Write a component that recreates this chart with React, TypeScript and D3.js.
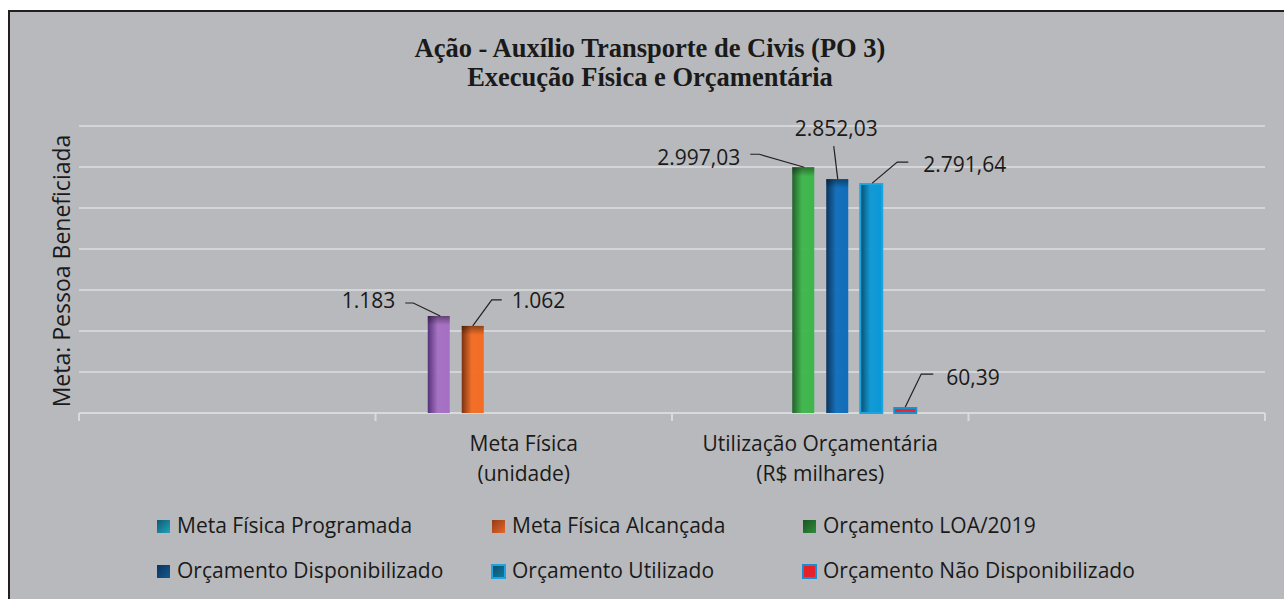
import * as d3 from "d3";

// ── Data ─────────────────────────────────────────────
const categoryKeys = ["vazio1", "meta", "orcamento", "vazio2"];
const categoryLine1 = ["", "Meta Física", "Utilização Orçamentária", ""];
const categoryLine2 = ["", "(unidade)", "(R$ milhares)", ""];

const seriesNames = [
  "Meta Física Programada",
  "Meta Física Alcançada",
  "Orçamento LOA/2019",
  "Orçamento Disponibilizado",
  "Orçamento Utilizado",
  "Orçamento Não Disponibilizado",
];

const metaProgramada = [null, 1183, null, null];
const metaAlcancada = [null, 1062, null, null];
const orcamentoLoa = [null, null, 2997.03, null];
const orcamentoDisponibilizado = [null, null, 2852.03, null];
const orcamentoUtilizado = [null, null, 2791.64, null];
const orcamentoNaoDisponibilizado = [null, null, 60.39, null];

const seriesValues: (number | null)[][] = [
  metaProgramada,
  metaAlcancada,
  orcamentoLoa,
  orcamentoDisponibilizado,
  orcamentoUtilizado,
  orcamentoNaoDisponibilizado,
];

const yMax = 3500;

// ── Styles ───────────────────────────────────────────
const barStyle = [
  { dark: "#55317a", light: "#a56fc3", stroke: "none" },
  { dark: "#7a3212", light: "#f46c22", stroke: "none" },
  { dark: "#23602c", light: "#3eb64b", stroke: "none" },
  { dark: "#0a355d", light: "#0f6dba", stroke: "none" },
  { dark: "#0a4a6a", light: "#0a98d6", stroke: "#1ba4e2" },
  { dark: "#e61f29", light: "#e8232c", stroke: "#1a8fd0" },
];
const legendStyle = [
  { dark: "#0c5a70", light: "#24a3be", stroke: "none" },
  { dark: "#933a16", light: "#e3692c", stroke: "none" },
  { dark: "#1b5523", light: "#2f8c3b", stroke: "none" },
  { dark: "#0a3360", light: "#16588f", stroke: "none" },
  { dark: "#0b4d6b", light: "#127ca3", stroke: "#1ea3e0" },
  { dark: "#e61f29", light: "#e8232c", stroke: "#1a8fd0" },
];

// label leader lines, relative to bar top centre
const labelLayout = [
  { pts: [[1.5, 0], [-25.5, -13], [-33.5, -13]], dx: -43.5, dy: -15, anchor: "end" },
  { pts: [[0, 0], [19, -26], [29, -26]], dx: 39, dy: -25, anchor: "start" },
  { pts: [[1, 0], [-44, -13], [-53, -13]], dx: -63, dy: -10, anchor: "end" },
  { pts: [[0.5, 0], [-3.5, -33]], dx: -1, dy: -51, anchor: "middle" },
  { pts: [[1, -1], [26, -22], [37, -22]], dx: 52, dy: -20, anchor: "start" },
  { pts: [[0, -1], [16, -34], [28, -34]], dx: 41, dy: -31, anchor: "start" },
];

const legendCols = [157, 492, 803];
const legendRows = [520, 565];

const ptBR = d3.formatLocale({ decimal: ",", thousands: ".", grouping: [3], currency: ["R$", ""] });
const fmtInt = ptBR.format(",.0f");
const fmtDec = ptBR.format(",.2f");

const W = 1284, H = 599;
const SANS = "'Open Sans', 'Noto Sans', sans-serif";

export default function App() {
  const x = d3.scaleBand().domain(categoryKeys).range([79, 1265]);
  const bw = x.bandwidth();
  const groupW = 204;
  const inner = d3.scaleBand().domain(seriesNames)
    .range([(bw - groupW) / 2, (bw + groupW) / 2])
    .paddingInner(12 / 34).paddingOuter(6 / 34);
  const y = d3.scaleLinear().domain([0, yMax]).range([413, 126]);
  const base = y(0);
  const line = d3.line();

  const bars: { si: number; ci: number; v: number }[] = [];
  seriesValues.forEach((vals, si) => vals.forEach((v, ci) => { if (v != null) bars.push({ si, ci, v }); }));

  return (
    <div style={{ position: "absolute", left: 0, top: 0, width: W, height: H, background: "#fff" }}>
      <svg width={W} height={H} style={{ display: "block" }}>
        <defs>
          {barStyle.map((s, i) => (
            <linearGradient key={i} id={`bar-${i}`} x1="0" y1="0" x2="1" y2="0">
              <stop offset="0%" stopColor={s.dark} />
              <stop offset="45%" stopColor={s.light} stopOpacity={0.95} />
              <stop offset="100%" stopColor={s.light} />
            </linearGradient>
          ))}
          {legendStyle.map((s, i) => (
            <linearGradient key={i} id={`leg-${i}`} x1="0" y1="0" x2="1" y2="1">
              <stop offset="0%" stopColor={s.dark} />
              <stop offset="100%" stopColor={s.light} />
            </linearGradient>
          ))}
          <linearGradient id="cap" x1="0" y1="0" x2="0" y2="1">
            <stop offset="0%" stopColor="#000" stopOpacity={0.4} />
            <stop offset="100%" stopColor="#000" stopOpacity={0} />
          </linearGradient>
        </defs>

        {/* frame */}
        <rect x={9} y={11} width={W} height={H} fill="#b8b9bc" stroke="#231f20" strokeWidth={2} />

        {/* title */}
        <g fontFamily="'Liberation Serif', 'Times New Roman', serif" fontWeight="bold" fontSize={26.5} fill="#1a1a1a" textAnchor="middle">
          <text x={650} y={57}>Ação - Auxílio Transporte de Civis (PO 3)</text>
          <text x={650} y={86}>Execução Física e Orçamentária</text>
        </g>

        {/* grid */}
        {y.ticks(7).map(t => (
          <line key={t} x1={79} x2={1265} y1={y(t)} y2={y(t)} stroke={t === 0 ? "#d9dadc" : "#d4d5d8"} strokeWidth={2} />
        ))}
        {[...categoryKeys.map(k => x(k)!), 1265].map((px, i) => (
          <line key={i} x1={px} x2={px} y1={base} y2={base + 8} stroke="#d9dadc" strokeWidth={2} />
        ))}

        {/* y title */}
        <text transform={`translate(70,271) rotate(-90)`} textAnchor="middle" fontFamily={SANS} fontSize={23} fill="#1a1a1a">
          Meta: Pessoa Beneficiada
        </text>

        {/* bars */}
        {bars.map(({ si, ci, v }) => {
          const bx = x(categoryKeys[ci])! + inner(seriesNames[si])!;
          const w = inner.bandwidth();
          const top = y(v);
          const h = base - top;
          const s = barStyle[si];
          return (
            <g key={`${si}-${ci}`}>
              <rect x={bx} y={top} width={w} height={h} fill={`url(#bar-${si})`}
                stroke={s.stroke} strokeWidth={s.stroke === "none" ? 0 : 2} />
              {s.stroke === "none" && <rect x={bx} y={top} width={w} height={Math.min(9, h)} fill="url(#cap)" />}
            </g>
          );
        })}

        {/* labels */}
        {bars.map(({ si, ci, v }) => {
          const cx = x(categoryKeys[ci])! + inner(seriesNames[si])! + inner.bandwidth() / 2;
          const top = y(v);
          const L = labelLayout[si];
          const pts = L.pts.map(([dx, dy]) => [cx + dx, top + dy] as [number, number]);
          const txt = ci === 1 ? fmtInt(v) : fmtDec(v);
          return (
            <g key={`l-${si}-${ci}`}>
              <path d={line(pts)!} fill="none" stroke="#231f20" strokeWidth={1.2} />
              <text x={cx + L.dx} y={top + L.dy + 7.5} textAnchor={L.anchor} fontFamily={SANS} fontSize={21} fill="#1a1a1a">
                {txt}
              </text>
            </g>
          );
        })}

        {/* category labels */}
        {categoryKeys.map((k, i) => (
          <g key={k} fontFamily={SANS} fontSize={21} fill="#1a1a1a" textAnchor="middle">
            <text x={x(k)! + bw / 2} y={451}>{categoryLine1[i]}</text>
            <text x={x(k)! + bw / 2} y={481}>{categoryLine2[i]}</text>
          </g>
        ))}

        {/* legend */}
        {seriesNames.map((name, i) => {
          const lx = legendCols[i % 3];
          const ly = legendRows[Math.floor(i / 3)];
          const s = legendStyle[i];
          return (
            <g key={name}>
              <rect x={lx} y={ly} width={13} height={13} fill={`url(#leg-${i})`}
                stroke={s.stroke} strokeWidth={s.stroke === "none" ? 0 : 2} />
              <text x={lx + 20} y={ly + 13} fontFamily={SANS} fontSize={21} fill="#1a1a1a">{name}</text>
            </g>
          );
        })}
      </svg>
    </div>
  );
}
